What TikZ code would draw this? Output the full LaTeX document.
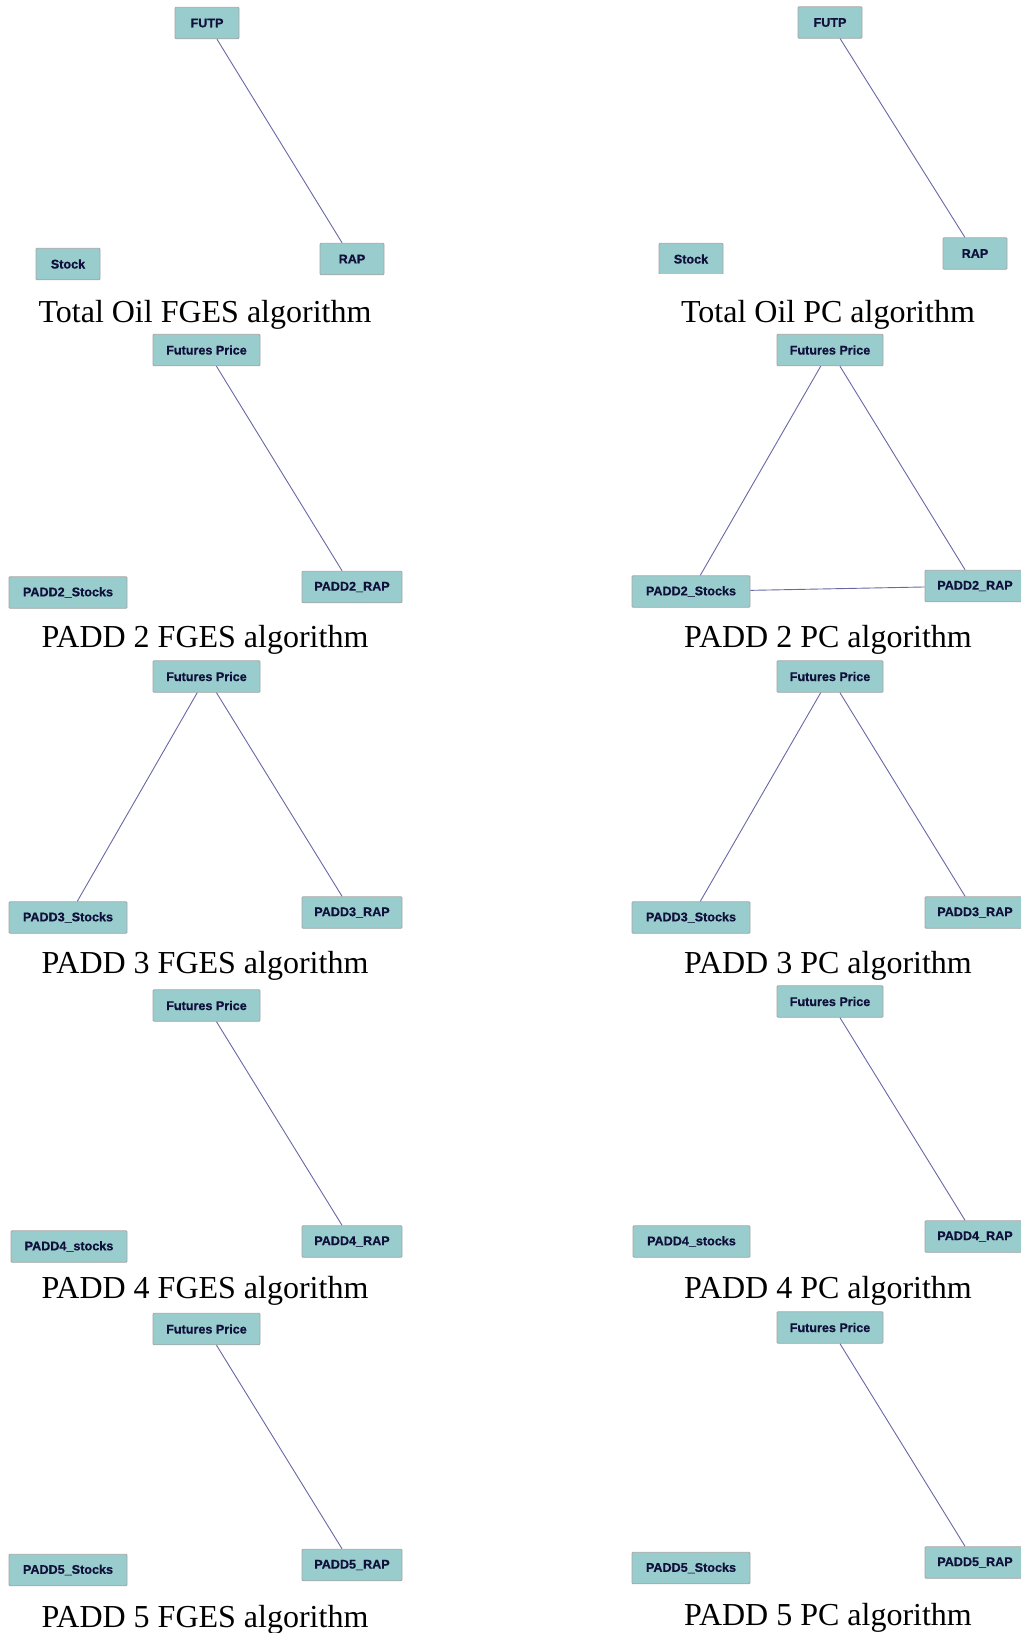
\documentclass[tikz,border=0pt]{standalone}
\usepackage{fontspec}
\setmainfont{Liberation Serif}
\setsansfont{Liberation Sans}
\newfontfamily\nodefont{Liberation Sans}[BoldFeatures={FakeBold=0.6}]
\definecolor{boxfill}{RGB}{153,204,204}
\definecolor{boxline}{RGB}{165,165,165}
\definecolor{boxtext}{RGB}{16,16,60}
\definecolor{edgecol}{RGB}{104,104,164}
\tikzset{
  bx/.style={draw=boxline, fill=boxfill, line width=0.9pt, rounded corners=1pt,
    inner sep=0pt, minimum height=31.5pt, text=boxtext,
    font=\nodefont\bfseries\fontsize{12.6}{14}\selectfont},
  ttl/.style={anchor=base, inner sep=0pt, font=\rmfamily\fontsize{32}{36}\selectfont},
  edge/.style={draw=edgecol, line width=0.9pt}
}
\begin{document}
\begin{tikzpicture}[x=1pt,y=-1pt]
\useasboundingbox (0,0) rectangle (1020,1633);

% ---- Row 1 left: Total Oil FGES
\node[bx, minimum width=64pt] (a1) at (207,23) {FUTP};
\node[bx, minimum width=64pt] (a2) at (68,264) {Stock};
\node[bx, minimum width=64pt] (a3) at (352,259) {RAP};
\draw[edge] (a1) -- (a3);
\node[ttl] (at) at (205,322) {Total Oil FGES algorithm};

% ---- Row 1 right: Total Oil PC
\node[bx, minimum width=64pt] (b1) at (830,22.5) {FUTP};
\begin{scope}
\clip (600,200) rectangle (800,273.5);
\node[bx, minimum width=64pt] (b2) at (691,259) {Stock};
\end{scope}
\node[bx, minimum width=64pt] (b3) at (975,253.5) {RAP};
\draw[edge] (b1) -- (b3);
\node[ttl] (bt) at (828,322) {Total Oil PC algorithm};

% ---- Row 2 left: PADD 2 FGES
\node[bx, minimum width=107pt] (c1) at (206.5,350) {Futures Price};
\node[bx, minimum width=118pt] (c2) at (68,592.5) {PADD2\_Stocks};
\node[bx, minimum width=100pt] (c3) at (352,587) {PADD2\_RAP};
\draw[edge] (c1) -- (c3);
\node[ttl] (ct) at (205,647) {PADD 2 FGES algorithm};

% ---- Row 2 right: PADD 2 PC
\node[bx, minimum width=106pt] (d1) at (830,350) {Futures Price};
\node[bx, minimum width=118pt] (d2) at (691,591.5) {PADD2\_Stocks};
\node[bx, minimum width=100pt] (d3) at (975,586) {PADD2\_RAP};
\draw[edge] (d1) -- (d2);
\draw[edge] (d1) -- (d3);
\draw[edge] (d2) -- (d3);
\node[ttl] (dt) at (828,647) {PADD 2 PC algorithm};

% ---- Row 3 left: PADD 3 FGES
\node[bx, minimum width=107pt] (e1) at (206.5,676.5) {Futures Price};
\node[bx, minimum width=118pt] (e2) at (68,917.5) {PADD3\_Stocks};
\node[bx, minimum width=100pt] (e3) at (352,912.5) {PADD3\_RAP};
\draw[edge] (e1) -- (e2);
\draw[edge] (e1) -- (e3);
\node[ttl] (et) at (205,973) {PADD 3 FGES algorithm};

% ---- Row 3 right: PADD 3 PC
\node[bx, minimum width=106pt] (f1) at (830,676.5) {Futures Price};
\node[bx, minimum width=118pt] (f2) at (691,917.5) {PADD3\_Stocks};
\node[bx, minimum width=100pt] (f3) at (975,912.5) {PADD3\_RAP};
\draw[edge] (f1) -- (f2);
\draw[edge] (f1) -- (f3);
\node[ttl] (ft) at (828,973) {PADD 3 PC algorithm};

% ---- Row 4 left: PADD 4 FGES
\node[bx, minimum width=107pt] (g1) at (206.5,1005.5) {Futures Price};
\node[bx, minimum width=116pt] (g2) at (69,1246.5) {PADD4\_stocks};
\node[bx, minimum width=100pt] (g3) at (352,1241.5) {PADD4\_RAP};
\draw[edge] (g1) -- (g3);
\node[ttl] (gt) at (205,1298) {PADD 4 FGES algorithm};

% ---- Row 4 right: PADD 4 PC
\node[bx, minimum width=106pt] (h1) at (830,1001.5) {Futures Price};
\node[bx, minimum width=117pt] (h2) at (691.5,1241.5) {PADD4\_stocks};
\node[bx, minimum width=100pt] (h3) at (975,1236.5) {PADD4\_RAP};
\draw[edge] (h1) -- (h3);
\node[ttl] (ht) at (828,1298) {PADD 4 PC algorithm};

% ---- Row 5 left: PADD 5 FGES
\node[bx, minimum width=107pt] (i1) at (206.5,1329) {Futures Price};
\node[bx, minimum width=118pt] (i2) at (68,1570) {PADD5\_Stocks};
\node[bx, minimum width=100pt] (i3) at (352,1565) {PADD5\_RAP};
\draw[edge] (i1) -- (i3);
\node[ttl] (it) at (205,1627) {PADD 5 FGES algorithm};

% ---- Row 5 right: PADD 5 PC
\node[bx, minimum width=106pt] (j1) at (830,1327.5) {Futures Price};
\node[bx, minimum width=118pt] (j2) at (691,1568) {PADD5\_Stocks};
\node[bx, minimum width=100pt] (j3) at (975,1562.5) {PADD5\_RAP};
\draw[edge] (j1) -- (j3);
\node[ttl] (jt) at (828,1625) {PADD 5 PC algorithm};
\end{tikzpicture}
\end{document}
